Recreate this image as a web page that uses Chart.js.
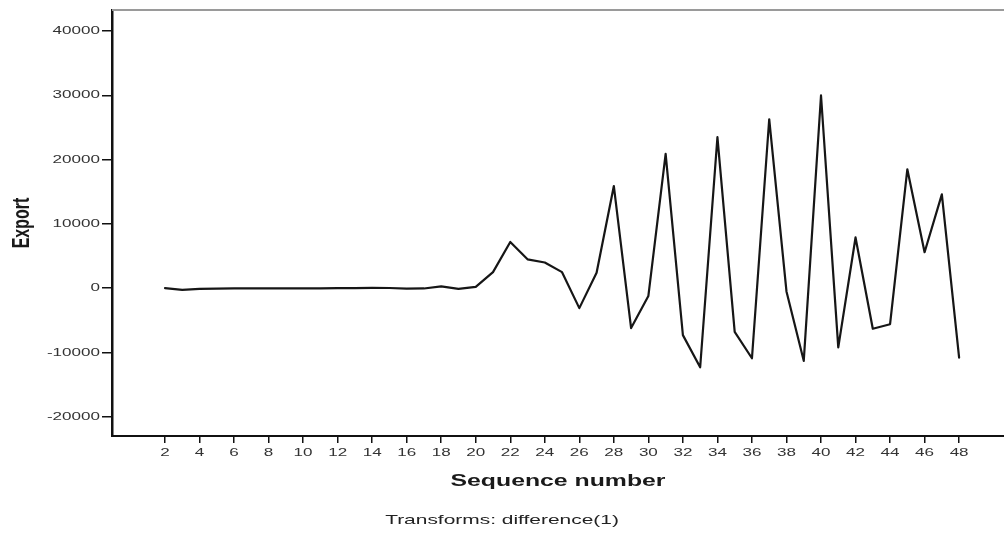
<!DOCTYPE html>
<html>
<head>
<meta charset="utf-8">
<script src="https://cdn.jsdelivr.net/npm/chart.js@4.4.1/dist/chart.umd.min.js"></script>
<style>
  html, body { margin: 0; padding: 0; background: #fff; }
  #wrap { width: 1004px; height: 533px; }
</style>
</head>
<body>
<div id="wrap"><canvas id="c" width="1004" height="533"></canvas></div>
<script>
// ---- data ----
const sequenceNumbers = [2,3,4,5,6,7,8,9,10,11,12,13,14,15,16,17,18,19,20,21,22,23,24,25,26,27,28,29,30,31,32,33,34,35,36,37,38,39,40,41,42,43,44,45,46,47,48];
const exportDiff = [0,-250,-100,-50,-30,-30,-20,-20,-20,-20,0,20,50,30,-50,-40,300,-100,200,2500,7200,4500,4000,2500,-3100,2400,15900,-6200,-1200,20900,-7300,-12300,23500,-6800,-10900,26300,-500,-11300,30000,-9200,7900,-6300,-5600,18500,5600,14600,-10800];
const xTickLabels = [2,4,6,8,10,12,14,16,18,20,22,24,26,28,30,32,34,36,38,40,42,44,46,48];
const yTickLabels = [-20000,-10000,0,10000,20000,30000,40000];

const xTitle = 'Sequence number';
const yTitle = 'Export';
const footnote = 'Transforms: difference(1)';

// ---- rendering ----
const canvas = document.getElementById('c');
const ctx = canvas.getContext('2d');

// The reference image is horizontally stretched; widen glyphs the same way.
const STRETCH = 1.55;
const origFillText = ctx.fillText.bind(ctx);
ctx.fillText = function(text, x, y, maxWidth) {
  const m = ctx.getTransform();
  const p = m.transformPoint(new DOMPoint(x, y));
  ctx.save();
  const nm = new DOMMatrix().translate(p.x, p.y).scale(STRETCH, 1)
    .multiply(new DOMMatrix([m.a, m.b, m.c, m.d, 0, 0]));
  ctx.setTransform(nm);
  origFillText(text, 0, 0);
  ctx.restore();
};

const topBorder = {
  id: 'topBorder',
  afterDraw(chart) {
    const a = chart.chartArea;
    const c = chart.ctx;
    c.save();
    c.strokeStyle = '#9a9a9a';
    c.lineWidth = 2;
    c.beginPath();
    c.moveTo(a.left, a.top);
    c.lineTo(a.right, a.top);
    c.stroke();
    c.restore();
  }
};

new Chart(ctx, {
  type: 'line',
  data: {
    datasets: [{
      data: sequenceNumbers.map((s, i) => ({ x: s, y: exportDiff[i] })),
      borderColor: '#161616',
      borderWidth: 2.2,
      borderJoinStyle: 'round',
      borderCapStyle: 'round',
      pointRadius: 0,
      tension: 0,
      fill: false
    }]
  },
  options: {
    responsive: false,
    animation: false,
    devicePixelRatio: 1,
    layout: { padding: { left: 0, right: 0, top: 10, bottom: 0 } },
    plugins: {
      legend: { display: false },
      tooltip: { enabled: false },
      title: { display: false },
      subtitle: {
        display: true,
        position: 'bottom',
        text: footnote,
        color: '#222',
        font: { family: 'Liberation Sans', size: 13.5, weight: 'normal', lineHeight: 1.2 },
        padding: { top: 6, bottom: 4.8 }
      }
    },
    scales: {
      x: {
        type: 'linear',
        min: -1.07,
        max: 50.6,
        afterFit(scale) { scale.height = 70; },
        afterBuildTicks(scale) { scale.ticks = xTickLabels.map(v => ({ value: v })); },
        grid: { drawOnChartArea: false, drawTicks: true, tickLength: 7, color: '#111', lineWidth: 1.5 },
        border: { display: true, color: '#111', width: 2 },
        ticks: {
          autoSkip: false,
          maxRotation: 0,
          padding: 3,
          color: '#333',
          font: { family: 'Liberation Sans', size: 11 },
          callback: v => String(v)
        },
        title: {
          display: true,
          text: xTitle,
          color: '#1a1a1a',
          font: { family: 'Liberation Sans', size: 16, weight: 'bold', lineHeight: 1.2 },
          padding: { top: 0, bottom: 15 }
        }
      },
      y: {
        type: 'linear',
        min: -23000,
        max: 43300,
        afterFit(scale) { scale.width = 112; },
        afterBuildTicks(scale) { scale.ticks = yTickLabels.map(v => ({ value: v })); },
        grid: { drawOnChartArea: false, drawTicks: true, tickLength: 10, color: '#111', lineWidth: 1.5 },
        border: { display: true, color: '#111', width: 2.5 },
        ticks: {
          padding: 2,
          color: '#333',
          font: { family: 'Liberation Sans', size: 11 },
          callback: v => String(v)
        },
        title: {
          display: true,
          text: yTitle,
          color: '#1a1a1a',
          font: { family: 'Liberation Sans', size: 16, weight: 'bold', lineHeight: 1.2 },
          padding: { top: 13, bottom: 0 }
        }
      }
    }
  },
  plugins: [topBorder]
});
</script>
</body>
</html>
